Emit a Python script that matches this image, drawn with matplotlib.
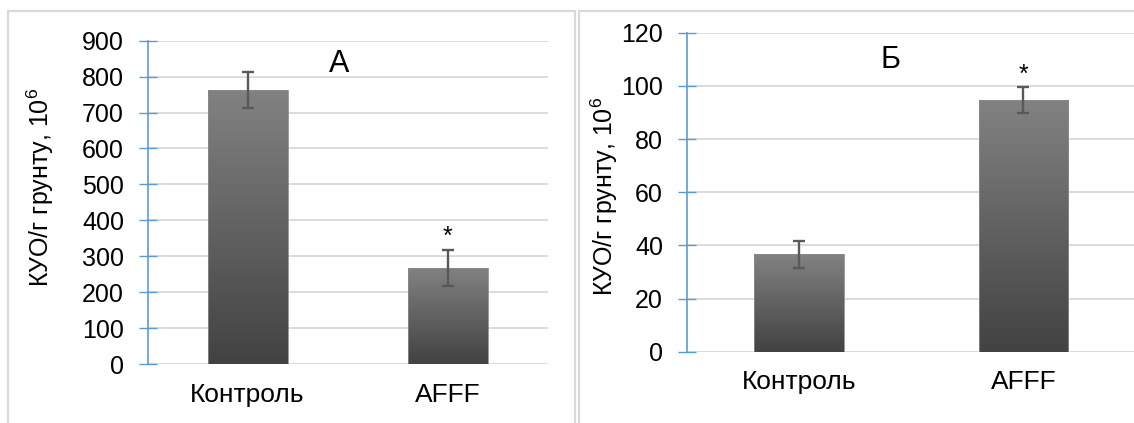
import numpy as np
import matplotlib
matplotlib.use('Agg')
import matplotlib.pyplot as plt
from matplotlib.patches import Rectangle
from matplotlib.colors import LinearSegmentedColormap

plt.rcParams['font.family'] = ['Liberation Sans', 'DejaVu Sans']
plt.rcParams['mathtext.fontset'] = 'custom'
plt.rcParams['mathtext.rm'] = 'Liberation Sans'
plt.rcParams['mathtext.it'] = 'Liberation Sans:italic'

groups = ['Контроль', 'AFFF']

# panel A
cfu_a = [762, 268]
err_a = [50, 50]
ticks_a = [0, 100, 200, 300, 400, 500, 600, 700, 800, 900]

# panel Б
cfu_b = [36.6, 94.6]
err_b = [5.1, 4.9]
ticks_b = [0, 20, 40, 60, 80, 100, 120]

ylabel = 'КУО/г грунту, 10$^{6}$'
blue = '#5b9bd5'
grad = LinearSegmentedColormap.from_list('bar', ['#424242', '#828282'])

W, H = 1134, 423
fig = plt.figure(figsize=(W / 100, H / 100), dpi=100)

# grey frames round each panel
fig.add_artist(Rectangle((8 / W, -0.02), (575 - 8) / W, 1.02 - 11 / H,
                         transform=fig.transFigure, fill=False,
                         edgecolor='#d9d9d9', lw=1.6))
fig.add_artist(Rectangle((579 / W, -0.02), 0.7, 1.02 - 11 / H,
                         transform=fig.transFigure, fill=False,
                         edgecolor='#d9d9d9', lw=1.6))


def draw_panel(rect, values, errors, ticks, letter, letter_xy, star_off, ylab_xy):
    ax = fig.add_axes(rect)
    x = np.arange(len(groups))
    bars = ax.bar(x, values, width=0.4, color='none', edgecolor='#8a8a8a',
                  lw=0.6, zorder=3)
    g = np.linspace(0, 1, 256).reshape(-1, 1)
    for b in bars:
        bx, bw, bh = b.get_x(), b.get_width(), b.get_height()
        im = ax.imshow(g, extent=[bx, bx + bw, 0, bh], origin='lower',
                       cmap=grad, aspect='auto', zorder=2)
        im.set_clip_path(b)
    ax.errorbar(x, values, yerr=errors, fmt='none', ecolor='#595959',
                elinewidth=1.7, capsize=4.5, capthick=1.7, zorder=4)
    for xi, v, e in zip(x, values, errors):
        if xi == 1:
            ax.annotate('*', (xi, v + e), xytext=(0, star_off),
                        textcoords='offset points', ha='center', va='center',
                        fontsize=18)
    ax.text(letter_xy[0], letter_xy[1], letter, ha='center', va='center',
            fontsize=22)

    ax.set_xlim(-0.5, len(groups) - 0.5)
    ax.set_ylim(ticks[0], ticks[-1])
    ax.set_yticks(ticks)
    ax.set_xticks(x)
    ax.set_xticklabels(groups, fontsize=19)
    ax.tick_params(axis='y', direction='inout', length=13, width=1,
                   color=blue, labelsize=18, pad=10.5)
    ax.tick_params(axis='x', length=0, pad=13.5)
    for s in ['top', 'right', 'bottom']:
        ax.spines[s].set_visible(False)
    ax.spines['left'].set_color(blue)
    ax.spines['left'].set_linewidth(1.2)
    ax.spines['left'].set_zorder(5)
    ax.grid(axis='y', color='#d9d9d9', lw=1.3, zorder=0)
    ax.set_axisbelow(True)
    ax.set_ylabel(ylabel, fontsize=18)
    ax.yaxis.set_label_coords(*ylab_xy)
    return ax


draw_panel([147.5 / W, 59 / H, 400 / W, 323.3 / H], cfu_a, err_a, ticks_a,
           'А', (0.46, 836), 9, (-0.228, 0.547))
draw_panel([686.7 / W, 71.3 / H, 449 / W, 319 / H], cfu_b, err_b, ticks_b,
           'Б', (0.41, 109.7), 9, (-0.149, 0.488))

fig.savefig('out.png', dpi=100, facecolor='white')
